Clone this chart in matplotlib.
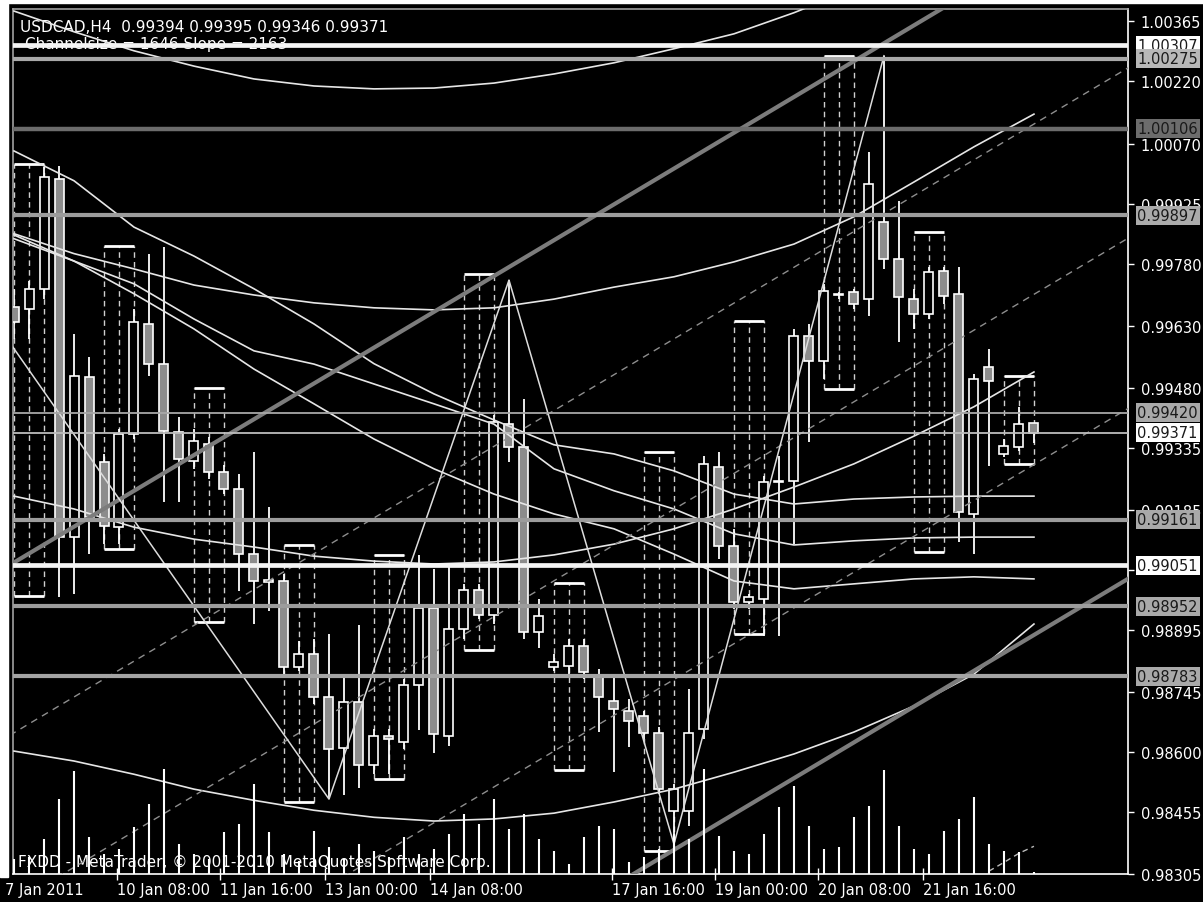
import numpy as np
import matplotlib
matplotlib.use("Agg")
from matplotlib import pyplot as plt
from matplotlib import transforms
from matplotlib.patches import Rectangle

# USDCAD H4 bars, index = bar position on the chart
opens = [0.99675, 0.99670, 0.99719, 0.99984, 0.99120, 0.99506, 0.99301, 0.99144, 0.99368, 0.99634,
         0.99537, 0.99373, 0.99303, 0.99344, 0.99276, 0.99235, 0.99078, 0.99010, 0.99013, 0.98805,
         0.98837, 0.98733, 0.98609, 0.98721, 0.98568, 0.98638, 0.98624, 0.98761, 0.98948, 0.98638,
         0.98897, 0.98991, 0.98931, 0.99392, 0.99337, 0.98890, 0.98805, 0.98808, 0.98856, 0.98783,
         0.98723, 0.98699, 0.98687, 0.98646, 0.98457, 0.98457, 0.98655, 0.99288, 0.99097, 0.98962,
         0.98970, 0.99252, 0.99255, 0.99605, 0.99545, 0.99704, 0.99711, 0.99694, 0.99881, 0.99791,
         0.99694, 0.99658, 0.99762, 0.99707, 0.99175, 0.99530, 0.99320, 0.99337, 0.99394]
highs = [0.99719, 0.99738, 1.00013, 1.00016, 0.99610, 0.99554, 0.99320, 0.99380, 0.99670, 0.99803,
         0.99820, 0.99409, 0.99380, 0.99361, 0.99293, 0.99272, 0.99325, 0.99192, 0.99030, 0.98868,
         0.98873, 0.98885, 0.98783, 0.98906, 0.98655, 0.98655, 0.98776, 0.99076, 0.99042, 0.99049,
         0.99006, 0.99006, 0.99414, 0.99740, 0.99453, 0.98970, 0.98837, 0.98873, 0.98873, 0.98800,
         0.98781, 0.98728, 0.98699, 0.98660, 0.98522, 0.98752, 0.99315, 0.99325, 0.99139, 0.98982,
         0.99267, 0.99315, 0.99622, 0.99634, 0.99731, 0.99711, 0.99719, 1.00050, 1.00282, 0.99931,
         0.99719, 0.99772, 0.99772, 0.99772, 0.99513, 0.99574, 0.99356, 0.99434, 0.99395]
lows = [0.99598, 0.99598, 0.99694, 0.98974, 0.98982, 0.99078, 0.99102, 0.99102, 0.99356, 0.99508,
        0.99204, 0.99204, 0.99284, 0.99260, 0.99223, 0.98989, 0.98909, 0.98941, 0.98788, 0.98795,
        0.98716, 0.98486, 0.98496, 0.98513, 0.98547, 0.98547, 0.98607, 0.98653, 0.98597, 0.98614,
        0.98873, 0.98921, 0.98909, 0.99301, 0.98873, 0.98851, 0.98795, 0.98788, 0.98776, 0.98648,
        0.98551, 0.98612, 0.98631, 0.98498, 0.98377, 0.98421, 0.98631, 0.99066, 0.98945, 0.98945,
        0.98880, 0.98880, 0.99102, 0.99349, 0.99501, 0.99694, 0.99670, 0.99653, 0.99767, 0.99591,
        0.99622, 0.99646, 0.99682, 0.99107, 0.99078, 0.99291, 0.99312, 0.99327, 0.99346]
closes = [0.99639, 0.99719, 0.99989, 0.99120, 0.99508, 0.99168, 0.99146, 0.99368, 0.99639, 0.99537,
          0.99375, 0.99308, 0.99351, 0.99276, 0.99235, 0.99078, 0.99013, 0.99015, 0.98805, 0.98837,
          0.98733, 0.98607, 0.98721, 0.98568, 0.98638, 0.98631, 0.98761, 0.98948, 0.98643, 0.98897,
          0.98991, 0.98931, 0.99397, 0.99337, 0.98890, 0.98928, 0.98817, 0.98856, 0.98793, 0.98733,
          0.98704, 0.98675, 0.98646, 0.98510, 0.98510, 0.98646, 0.99296, 0.99097, 0.98962, 0.98974,
          0.99252, 0.99255, 0.99605, 0.99545, 0.99714, 0.99707, 0.99682, 0.99972, 0.99791, 0.99699,
          0.99658, 0.99760, 0.99702, 0.99180, 0.99501, 0.99496, 0.99339, 0.99392, 0.99371]
volumes = [150, 170, 350, 750, 1030, 370, 200, 250, 470, 700,
           1050, 300, 200, 150, 420, 500, 900, 420, 200, 130,
           430, 270, 150, 300, 230, 170, 370, 200, 250, 400,
           600, 500, 750, 450, 600, 350, 230, 100, 370, 480,
           450, 120, 170, 250, 400, 350, 1050, 380, 230, 200,
           400, 670, 880, 480, 250, 270, 570, 680, 1040, 480,
           250, 200, 430, 550, 770, 300, 230, 220, 20]

date_pos = [-0.6, 6.87, 13.73, 20.73, 27.73, 39.87, 46.73, 53.6, 60.6]
date_labels = ["7 Jan 2011", "10 Jan 08:00", "11 Jan 16:00", "13 Jan 00:00", "14 Jan 08:00",
               "17 Jan 16:00", "19 Jan 00:00", "20 Jan 08:00", "21 Jan 16:00"]
price_ticks = [0.98305, 0.98455, 0.98600, 0.98745, 0.98895, 0.99040, 0.99185, 0.99335,
               0.99480, 0.99630, 0.99780, 0.99925, 1.00070, 1.00220, 1.00365]
hidden_ticks = [0.99040]  # fully covered by the 0.99051 marker in the terminal

# horizontal price levels
levels = [1.00307, 1.00275, 1.00106, 0.99897, 0.99420, 0.99371, 0.99161, 0.99051, 0.98952, 0.98783]

# 3-bar boxes (first bar, top, bottom)
box_start = [0, 6, 12, 18, 24, 30, 36, 42, 48, 54, 60, 66]
box_top = [1.00021, 0.99823, 0.99479, 0.99100, 0.99076, 0.99755, 0.99008, 0.99325, 0.99641,
           1.00282, 0.99856, 0.99508]
box_bottom = [0.98977, 0.99090, 0.98914, 0.98479, 0.98535, 0.98846, 0.98556, 0.98361, 0.98885,
              0.99477, 0.99083, 0.99296]

# regression channel
chan_size = 0.01646
chan_slope = 0.0002163
chan_anchor_bar = 41.53
chan_anchor_price = 0.98310
chan_fracs = [0.25, 0.5, 0.75]

# zigzag
zz_bar = [-1, 21, 33, 44, 58]
zz_price = [0.99626, 0.98486, 0.99740, 0.98377, 1.00282]

# curved indicator lines
u1_bar = [0, 4, 8, 12, 16, 20, 24, 28, 32, 36, 40, 44, 48, 52, 54]
u1_price = [1.00390, 1.00340, 1.00294, 1.00257, 1.00226, 1.00209, 1.00202, 1.00204, 1.00216,
            1.00238, 1.00265, 1.00299, 1.00335, 1.00386, 1.00415]
curve_bar = [0, 4, 8, 12, 16, 20, 24, 28, 32, 36, 40, 44, 48, 52, 56, 60, 64, 68]
u2_price = [0.99852, 0.99804, 0.99767, 0.99728, 0.99704, 0.99685, 0.99673, 0.99668, 0.99673,
            0.99694, 0.99723, 0.99748, 0.99784, 0.99827, 0.99893, 0.99977, 1.00062, 1.00141]
u3_price = [0.99218, 0.99187, 0.99143, 0.99114, 0.99095, 0.99073, 0.99061, 0.99054, 0.99059,
            0.99076, 0.99102, 0.99139, 0.99187, 0.99240, 0.99296, 0.99363, 0.99434, 0.99518]
u4_price = [0.98602, 0.98578, 0.98546, 0.98510, 0.98483, 0.98459, 0.98442, 0.98433, 0.98438,
            0.98452, 0.98479, 0.98510, 0.98551, 0.98595, 0.98648, 0.98711, 0.98788, 0.98909]
ma_a = [1.00052, 0.99980, 0.99868, 0.99798, 0.99719, 0.99634, 0.99538, 0.99465, 0.99402,
        0.99342, 0.99320, 0.99279, 0.99223, 0.99199, 0.99211, 0.99216, 0.99218, 0.99218]
ma_b = [0.99840, 0.99786, 0.99731, 0.99646, 0.99569, 0.99537, 0.99489, 0.99441, 0.99392,
        0.99284, 0.99231, 0.99187, 0.99127, 0.99100, 0.99110, 0.99117, 0.99119, 0.99119]
ma_c = [0.99849, 0.99786, 0.99707, 0.99622, 0.99525, 0.99441, 0.99356, 0.99284, 0.99223,
        0.99175, 0.99139, 0.99078, 0.99013, 0.98994, 0.99006, 0.99018, 0.99023, 0.99018]
tail_bar = [65, 66, 67, 68]
tail_price = [0.98312, 0.98333, 0.98355, 0.98372]

W, H = 1203, 903
fig = plt.figure(figsize=(W / 100, H / 100), dpi=100, facecolor="black")
rect = [13 / W, (H - 875) / H, 1115 / W, 865 / H]
ax = fig.add_axes(rect, facecolor="black")
ax.set_xlim(-0.067, 74.27)
ax.set_ylim(0.98305, 1.00395)

# white page margins
fig.patches.append(Rectangle((0, 25 / H), 8 / W, 1, transform=fig.transFigure, color="white"))
fig.patches.append(Rectangle((0, 1 - 4 / H), 1, 4 / H, transform=fig.transFigure, color="white"))

x = np.arange(len(opens))
o, h, l, c = map(np.array, (opens, highs, lows, closes))

# boxes with dashed bar lines
for b0, top, bot in zip(box_start, box_top, box_bottom):
    bx = np.arange(b0, b0 + 3)
    ax.vlines(bx, bot, top, colors="#cfcfcf", lw=1, linestyles=(0, (4, 3)), zorder=1.5)
    ax.hlines([top, bot], b0, b0 + 2, colors="white", lw=2, zorder=1.6)

# candles
up = c >= o
ax.vlines(x, l, h, colors="white", lw=1.3, zorder=2)
lo = np.minimum(o, c)
hgt = np.maximum(np.abs(c - o), 0.00003)
ax.bar(x[up], hgt[up], 0.6, bottom=lo[up], color="black", edgecolor="white", lw=1.2, zorder=3)
ax.bar(x[~up], hgt[~up], 0.6, bottom=lo[~up], color="#8c8c8c", edgecolor="white", lw=1.2, zorder=3)

# curves
for ys in (u2_price, u3_price, u4_price, ma_a, ma_b, ma_c):
    ax.plot(curve_bar, ys, color="#e6e6e6", lw=1.2, zorder=4)
ax.plot(u1_bar, u1_price, color="#e6e6e6", lw=1.2, zorder=4)
ax.plot(tail_bar, tail_price, color="#bbbbbb", lw=1, ls=(0, (4, 3)), zorder=4)

# channel
cb = np.array([-2, 76])
lower = chan_anchor_price + chan_slope * (cb - chan_anchor_bar)
ax.plot(cb, lower, color="#7c7c7c", lw=3, zorder=4.5)
ax.plot(cb, lower + chan_size, color="#7c7c7c", lw=3, zorder=4.5)
for f in chan_fracs:
    ax.plot(cb, lower + f * chan_size, color="#8e8e8e", lw=1, ls=(0, (5, 4)), zorder=4.2)

# zigzag
ax.plot(zz_bar, zz_price, color="#dddddd", lw=1.1, zorder=4.6)

# horizontal levels
lv_color = ["#f4f4f4", "#a8a8a8", "#6c6c6c", "#9c9c9c", "#a8a8a8",
            "#bdbdbd", "#9c9c9c", "#f4f4f4", "#9c9c9c", "#a4a4a4"]
lv_width = [3.4, 3.0, 3.2, 3.0, 1.3, 1.3, 3.0, 3.4, 3.0, 3.0]
lab_color = ["#ffffff", "#b8b8b8", "#6c6c6c", "#ababab", "#a9a9a9",
             "#ffffff", "#a9a9a9", "#ffffff", "#a9a9a9", "#a9a9a9"]
for lv, col, lw in zip(levels, lv_color, lv_width):
    ax.axhline(lv, color=col, lw=lw, zorder=5)

tr = transforms.blended_transform_factory(ax.transAxes, ax.transData)
for lv, fc in zip(levels, lab_color):
    ax.text(1.0085, lv, "%.5f" % lv, transform=tr, ha="left", va="center", fontsize=10.5,
            color="#1a1a1a", clip_on=False, zorder=10,
            bbox=dict(boxstyle="square,pad=0.13", fc=fc, ec="none"))

# texts
ax.text(0.0063, 0.980, "USDCAD,H4  0.99394 0.99395 0.99346 0.99371", transform=ax.transAxes,
        color="white", fontsize=11, va="center", ha="left", zorder=1)
ax.text(0.0108, 0.960, "Channelsize = 1646 Slope = 2163", transform=ax.transAxes,
        color="white", fontsize=11, va="center", ha="left", zorder=1)
ax.text(0.0045, 0.015, "FXDD - MetaTrader, \u00a9 2001-2010 MetaQuotes Software Corp.",
        transform=ax.transAxes, color="white", fontsize=11, va="center", ha="left", zorder=1)

# axes styling
ax.yaxis.tick_right()
ax.set_yticks(price_ticks)
ax.set_yticklabels(["" if p in hidden_ticks else "%.5f" % p for p in price_ticks])
ax.tick_params(axis="y", colors="white", length=4, width=1, pad=5, labelsize=10.5)
ax.set_xticks(date_pos[1:])
ax.set_xticklabels([])
ax.tick_params(axis="x", colors="white", length=8, width=1, direction="inout")
trx = transforms.blended_transform_factory(ax.transData, ax.transAxes)
for p, s in zip(date_pos, date_labels):
    ax.text(p, -0.009, s, transform=trx, ha="left", va="top", color="white",
            fontsize=10.5, clip_on=False)
for side in ("left", "top"):
    ax.spines[side].set_color("#a0a0a0")
for side in ("right", "bottom"):
    ax.spines[side].set_color("white")
for sp in ax.spines.values():
    sp.set_linewidth(1.2)

# volumes on an overlay axis
ax2 = fig.add_axes(rect, sharex=ax)
ax2.patch.set_alpha(0)
ax2.set_ylim(0, 8650)
ax2.vlines(x, 0, volumes, colors="white", lw=1.5)
ax2.axis("off")

fig.savefig("out.png", dpi=100, facecolor="black")
